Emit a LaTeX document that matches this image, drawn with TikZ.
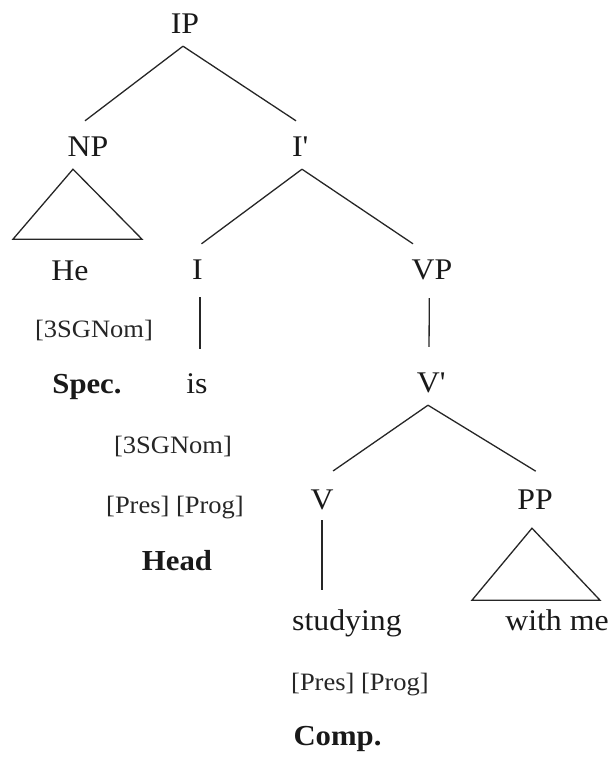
\documentclass[tikz,border=0pt]{standalone}
\usepackage{fontspec}
\setmainfont{Liberation Serif}[FakeStretch=1.06]
\begin{document}
\begin{tikzpicture}[x=1pt,y=-1pt,
  branch/.style={line width=1.3pt, draw=black!85},
  cat/.style={font=\fontsize{30}{30}\selectfont, text=black!90,
    text height=22pt, text depth=0pt, inner xsep=0pt, inner ysep=13pt, anchor=base},
  feat/.style={font=\fontsize{25}{25}\selectfont, text=black!85,
    inner sep=0pt, anchor=base},
  role/.style={font=\fontsize{29}{29}\selectfont\bfseries, text=black!90,
    inner sep=0pt, anchor=base}]
\useasboundingbox (0,0) rectangle (611,758);

% categories and words
\node[cat] (IP)   at (185,33)  {IP};
\node[cat] (NP)   at (88,156)  {NP};
\node[cat] (Ibar) at (300,156) {I\textquotesingle};
\node[cat] (He)   at (70,280)  {He};
\node[cat] (I)    at (197.5,279) {I};
\node[cat] (VP)   at (432,279) {VP};
\node[cat] (is)   at (197,393) {is};
\node[cat] (Vbar) at (431,392) {V\textquotesingle};
\node[cat] (V)    at (322,509) {V};
\node[cat] (PP)   at (535,509) {PP};
\node[cat] (stud) at (347,630) {studying};
\node[cat] (with) at (557,630) {with me};

% features and labels
\node[feat] (fHe)   at (94,337)  {[3SGNom]};
\node[role] (spec)  at (87,393)  {Spec.};
\node[feat] (fIs)   at (173,453) {[3SGNom]};
\node[feat] (tIs)   at (175,513) {[Pres] [Prog]};
\node[role] (head)  at (177,570) {Head};
\node[feat] (tStud) at (360,690) {[Pres] [Prog]};
\node[role] (comp)  at (337.5,745) {Comp.};

% branches
\draw[branch] ([xshift=-2pt]IP.south) -- ([xshift=-3pt]NP.north);
\draw[branch] ([xshift=-2pt]IP.south) -- ([xshift=-4pt]Ibar.north);
\draw[branch] ([xshift=2pt]Ibar.south) -- ([xshift=4pt]I.north);
\draw[branch] ([xshift=2pt]Ibar.south) -- ([xshift=-19pt]VP.north);
\draw[branch, shorten <=5pt, shorten >=9pt] ([xshift=2.5pt]I.south) -- ([xshift=3pt]is.north);
\draw[branch, shorten <=6pt, shorten >=10pt] ([xshift=-2.7pt]VP.south) -- ([xshift=-2pt]Vbar.north);
\draw[branch, shorten >=5pt] ([xshift=-3pt]Vbar.south) -- ([xshift=7pt]V.north);
\draw[branch, shorten >=5pt] ([xshift=-3pt]Vbar.south) -- ([xshift=5pt]PP.north);
\draw[branch, shorten <=-2pt, shorten >=5pt] (V.south) -- ([xshift=-25pt]stud.north);

% roof triangles
\draw[branch] ([xshift=-15pt]NP.south) -- ++(-60,70) -- ++(129,0) -- cycle;
\draw[branch] ([xshift=-3pt,yshift=-6pt]PP.south) -- ++(-60,72) -- ++(128,0) -- cycle;
\end{tikzpicture}
\end{document}
